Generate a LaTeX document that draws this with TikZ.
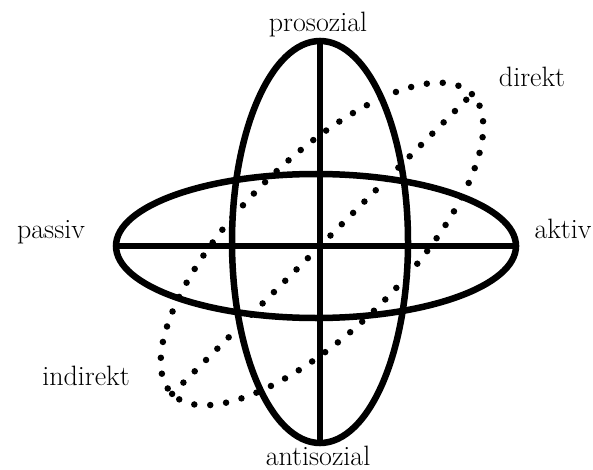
\documentclass[tikz,border=0pt]{standalone}
\usetikzlibrary{shapes.geometric}
\begin{document}
\begin{tikzpicture}[x=1pt, y=-1pt, line cap=round, line join=round,
	ring/.style={draw, ellipse, line width=6.5pt, inner sep=0pt, outer sep=0pt},
	dotring/.style={ring, dash pattern=on 0pt off 16pt},
	dotline/.style={line width=6.5pt, dash pattern=on 0pt off 16pt},
	lbl/.style={font=\fontsize{28}{32}\selectfont, anchor=base}]
	
	\useasboundingbox (0,0) rectangle (593,470);
	
	% Ellipsen
	\node[ring, minimum width=400pt, minimum height=144pt] (hor) at (316,246) {};
	\node[ring, minimum width=176pt, minimum height=402pt] (ver) at (320,242) {};
	\node[dotring, rotate=45, minimum width=424pt, minimum height=168pt] (dia) at (322,244) {};
	
	% Achsen
	\draw[line width=6.5pt] (hor.west) -- (hor.east);
	\draw[line width=6.5pt] (ver.north) -- (ver.south);
	\draw[dotline] (dia.west) -- (dia.east);
	
	% Beschriftung
	\node[lbl] (pro) at (318,32) {prosozial};
	\node[lbl] (anti) at (318,465) {antisozial};
	\node[lbl] (pas) at (51,238) {passiv};
	\node[lbl] (akt) at (563,238) {aktiv};
	\node[lbl] (dir) at (532,87) {direkt};
	\node[lbl] (indir) at (86,385) {indirekt};
	
\end{tikzpicture}
\end{document}
